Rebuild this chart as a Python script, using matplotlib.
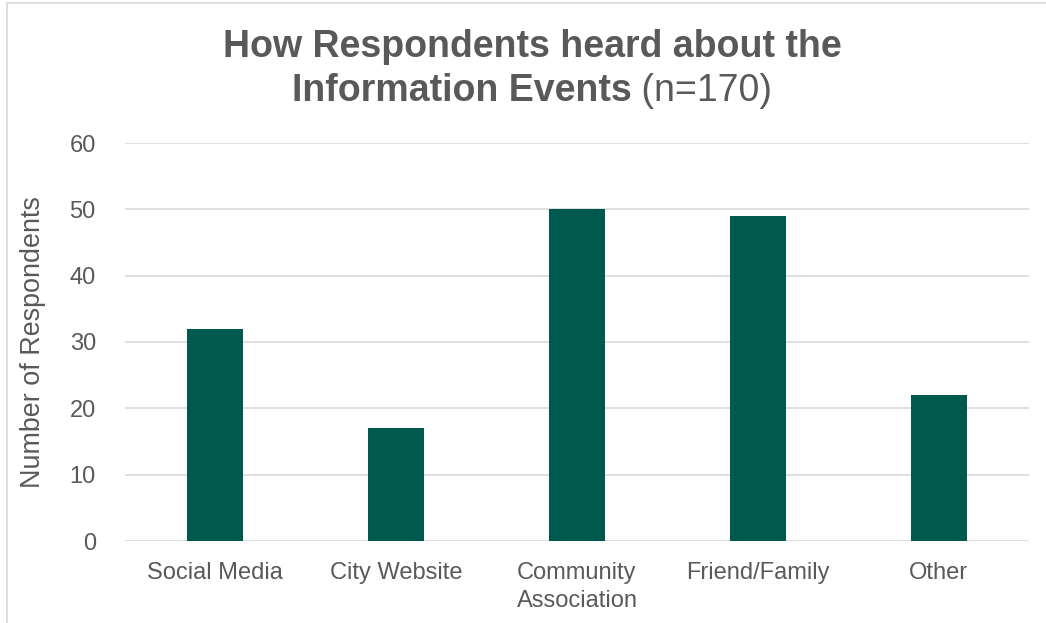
import matplotlib
matplotlib.use("Agg")
import matplotlib.pyplot as plt
from matplotlib.patches import Rectangle

categories = ["Social Media", "City Website", "Community\nAssociation", "Friend/Family", "Other"]
values = [32, 17, 50, 49, 22]
yticks = [0, 10, 20, 30, 40, 50, 60]

plt.rcParams['font.family'] = ['Liberation Sans', 'DejaVu Sans']
TEXT = '#595959'
GRID = '#D9D9D9'
BAR = '#00594F'

fig = plt.figure(figsize=(10.46, 6.23), dpi=100)
ax = fig.add_axes([125/1046, 1-541/623, (1029-125)/1046, (541-143)/623])

x = list(range(len(categories)))
ax.bar(x, values, width=0.31, color=BAR, zorder=3)
ax.set_xlim(-0.5, len(categories) - 0.5)
ax.set_ylim(0, 60)
ax.set_yticks(yticks)
ax.set_xticks(x)
ax.set_xticklabels(categories, fontsize=17, color=TEXT, linespacing=1.35)
ax.tick_params(axis='y', length=0, pad=21, labelsize=17, labelcolor=TEXT)
ax.tick_params(axis='x', length=0, pad=15)
ax.yaxis.grid(True, color=GRID, linewidth=1.2, zorder=0)
for s in ax.spines.values():
    s.set_visible(False)
ax.set_ylabel("Number of Respondents", fontsize=19.4, color=TEXT, labelpad=17)

# frame
fig.patches.append(Rectangle((7/1046, -0.1), 1.2, (623-3)/623 + 0.1,
                             transform=fig.transFigure, fill=False,
                             edgecolor=GRID, linewidth=1.2))

cx = 532/1046
fig.text(cx, 1-47/623, "How Respondents heard about the", ha='center', va='center',
         fontsize=27, fontweight='bold', color=TEXT)
t1 = fig.text(0, 1-91/623, "Information Events", ha='left', va='center',
              fontsize=27, fontweight='bold', color=TEXT)
t2 = fig.text(0, 1-91/623, " (n=170)", ha='left', va='center',
              fontsize=27, color=TEXT)
fig.canvas.draw()
r = fig.canvas.get_renderer()
w1 = t1.get_window_extent(r).width / fig.bbox.width
w2 = t2.get_window_extent(r).width / fig.bbox.width
start = cx - (w1 + w2) / 2
t1.set_x(start)
t2.set_x(start + w1)

fig.savefig("out.png", dpi=100)
